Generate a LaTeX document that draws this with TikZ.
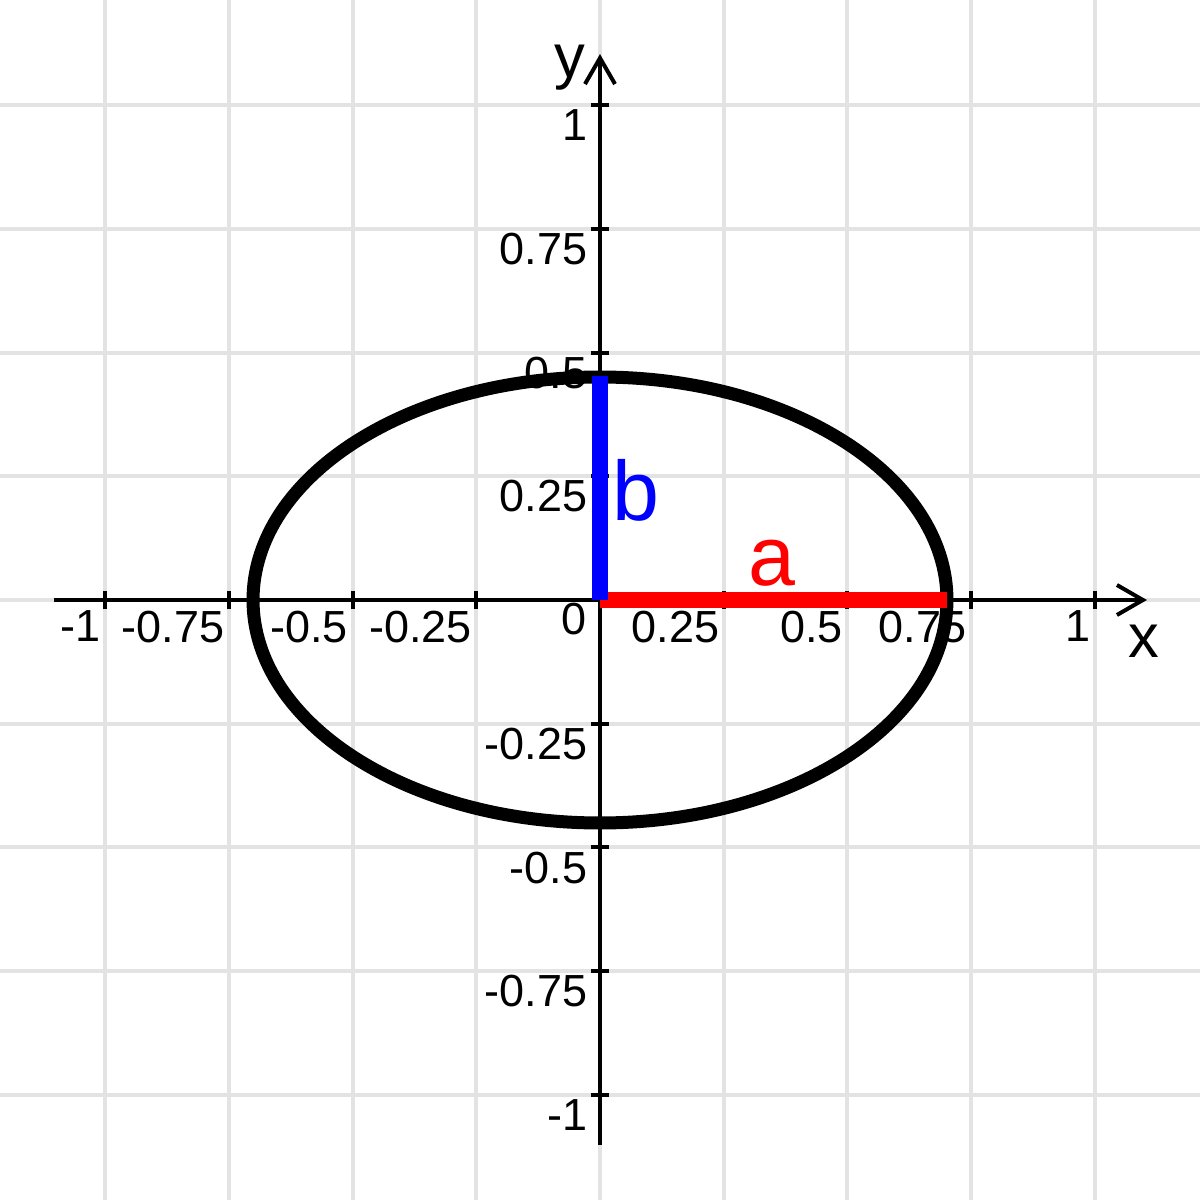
\documentclass[tikz,border=0pt]{standalone}
\usepackage{fontspec}
\setmainfont{Liberation Sans}
\usetikzlibrary{arrows.meta}

\begin{document}
\begin{tikzpicture}[x=4.95cm, y=4.95cm,
      gridline/.style={draw=black!11, line width=0.04cm},
      axis/.style={line width=0.04cm, -{Straight Barb[length=0.26cm, width=0.30cm]}},
      tickmark/.style={line width=0.04cm},
      ticklabel/.style={inner sep=0pt, font=\fontsize{12.8}{15}\selectfont},
      axislabel/.style={inner sep=0pt, font=\fontsize{17.5}{21}\selectfont},
      curve/.style={line width=0.13cm},
      semiaxis/.style={line width=0.17cm},
      semilabel/.style={inner sep=0pt, font=\fontsize{24}{28}\selectfont}
    ]
    \useasboundingbox (-1.2122,-1.2122) rectangle (1.2122,1.2122);
    % grid
    \foreach \g in {-1,-0.75,-0.5,-0.25,0,0.25,0.5,0.75,1} {
      \draw[gridline] (\g,-1.2122) -- (\g,1.2122);
      \draw[gridline] (-1.2122,\g) -- (1.2122,\g);
    }
    % axes
    \coordinate (O)    at (0,0);
    \coordinate (xmin) at (-1.103,0);
    \coordinate (xmax) at (1.105,0);
    \coordinate (ymin) at (0,-1.101);
    \coordinate (ymax) at (0,1.103);
    \draw[axis] (xmin) -- (xmax);
    \draw[axis] (ymin) -- (ymax);
    \foreach \t [count=\i] in {-1,-0.75,-0.5,-0.25,0.25,0.5,0.75,1} {
      \draw[tickmark] (\t,0) ++(0pt,-0.09cm) -- ++(0pt,0.18cm);
      \draw[tickmark] (0,\t) ++(-0.09cm,0pt) -- ++(0.18cm,0pt);
      \node[ticklabel, anchor=north east, xshift=-0.04cm, yshift=-0.10cm] (xt\i) at (\t,0) {\t};
      \node[ticklabel, anchor=north east, xshift=-0.12cm, yshift=-0.035cm] (yt\i) at (0,\t) {\t};
    }
    \node[ticklabel, anchor=north east, xshift=-0.13cm, yshift=-0.02cm] (zero) at (O) {0};
    % ellipse and semi-axes
    \coordinate (A) at (0.701,0);
    \coordinate (B) at (0,0.4525);
    \draw[curve] (O) ellipse [x radius=0.701, y radius=0.4505];
    \draw[semiaxis, red]  (O) -- (A);
    \draw[semiaxis, blue] (O) -- (B);
    \node[semilabel, text=red, anchor=base, yshift=0.15cm] (alabel) at (0.347,0) {a};
    \node[semilabel, text=blue, anchor=base west, xshift=0.12cm, yshift=0.80cm] (blabel) at (O) {b};
    \node[axislabel, anchor=base] (xlabel) at (1.099,-0.117) {x};
    \node[axislabel, anchor=base] (ylabel) at (-0.0606,1.0566) {y};
  \end{tikzpicture}
\end{document}
